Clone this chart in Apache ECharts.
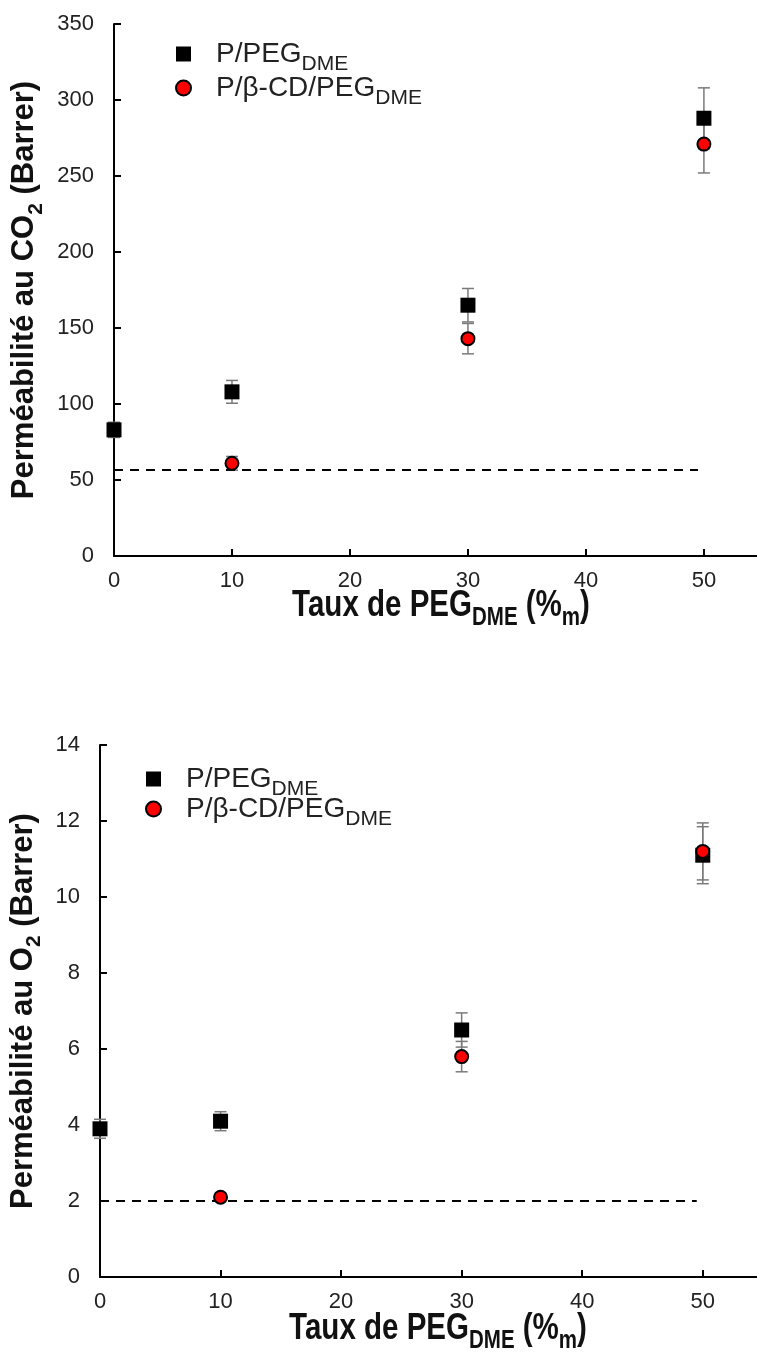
<!DOCTYPE html>
<html><head><meta charset="utf-8">
<script src="https://cdn.jsdelivr.net/npm/echarts@6/dist/echarts.min.js"></script>
<style>html,body{margin:0;padding:0;background:#fff}#c{width:757px;height:1363px}</style>
</head><body><div id="c"></div>
<script>
// ---- data ----
const xTicks = [0, 10, 20, 30, 40, 50];
const pegX = [0, 10, 30, 50];
const cdX = [10, 30, 50];
const co2Peg = [83, 108, 165, 288];
const co2PegErr = [5, 7.5, 11, 20];
const co2Cd = [61, 143, 271];
const co2CdErr = [4.5, 10, 19];
const co2Ref = 56.5;
const o2Peg = [3.9, 4.1, 6.5, 11.1];
const o2PegErr = [0.25, 0.25, 0.45, 0.75];
const o2Cd = [2.1, 5.8, 11.2];
const o2CdErr = [0.1, 0.4, 0.75];
const o2Ref = 2;
const refX = [0, 49.5];
const nPeg = 'P/PEG_DME';
const nCd = 'P/β-CD/PEG_DME';

const chart = echarts.init(document.getElementById('c'), null, {renderer: 'canvas'});
const F = 'Liberation Sans, Arial, sans-serif';

function pts(xs, ys) { return xs.map((x, i) => [x, ys[i]]); }
function errData(xs, ys, es) { return xs.map((x, i) => [x, ys[i] - es[i], ys[i] + es[i]]); }
function errSeries(idx, data) {
  return {
    type: 'custom', xAxisIndex: idx, yAxisIndex: idx, z: 1, silent: true,
    data: data,
    renderItem: function (params, api) {
      const x = api.value(0);
      const lo = api.coord([x, api.value(1)]);
      const hi = api.coord([x, api.value(2)]);
      const w = 6;
      const st = {stroke: '#7a7a7a', lineWidth: 1.5};
      return {type: 'group', children: [
        {type: 'line', shape: {x1: lo[0], y1: lo[1], x2: hi[0], y2: hi[1]}, style: st},
        {type: 'line', shape: {x1: lo[0] - w, y1: lo[1], x2: lo[0] + w, y2: lo[1]}, style: st},
        {type: 'line', shape: {x1: hi[0] - w, y1: hi[1], x2: hi[0] + w, y2: hi[1]}, style: st}
      ]};
    }
  };
}
function xAxisCfg(idx) {
  return {
    type: 'value', gridIndex: idx, min: 0, max: 54.5, interval: 10,
    axisLine: {lineStyle: {color: '#000', width: 2}},
    axisTick: {inside: true, length: 7, lineStyle: {color: '#000', width: 2}},
    axisLabel: {color: '#222', fontSize: 22, fontFamily: F, margin: 14, showMaxLabel: false},
    splitLine: {show: false}
  };
}
function yAxisCfg(idx, max, interval, gas, gap) {
  return {
    type: 'value', gridIndex: idx, min: 0, max: max, interval: interval,
    axisLine: {show: true, lineStyle: {color: '#000', width: 2}},
    axisTick: {show: true, inside: true, length: 7, lineStyle: {color: '#000', width: 2}},
    axisLabel: {color: '#222', fontSize: 22, fontFamily: F, margin: 20},
    splitLine: {show: false},
    name: '{b|Perméabilité au ' + gas + '}{s|2}{b| (Barrer)}',
    nameLocation: 'middle', nameGap: gap, nameRotate: 90,
    nameTextStyle: {
      rich: {
        b: {fontFamily: F, fontWeight: 'bold', fontSize: 31, color: '#111', verticalAlign: 'bottom'},
        s: {fontFamily: F, fontWeight: 'bold', fontSize: 21, color: '#111', verticalAlign: 'bottom', padding: [0, 0, -6, 0]}
      }
    }
  };
}
const legendRich = {
  a: {fontFamily: F, fontSize: 28, color: '#222', verticalAlign: 'bottom', padding: [0, 0, 0, 20]},
  s: {fontFamily: F, fontSize: 21, color: '#222', verticalAlign: 'bottom', padding: [0, 0, -7, 0]}
};
function legFmt(name) {
  const p = name.split('_');
  return '{a|' + p[0] + '}{s|' + p[1] + '}';
}
function legendCfg(left, top, gap) {
  return {
    left: left, top: top, orient: 'vertical', itemGap: gap, itemWidth: 15, itemHeight: 15, padding: 0,
    data: [{name: nPeg, icon: 'rect'}, {name: nCd, icon: 'circle'}],
    formatter: legFmt, textStyle: {rich: legendRich}, selectedMode: false
  };
}
function scatterPair(idx, peg, cd) {
  return [
    {name: nPeg, type: 'scatter', xAxisIndex: idx, yAxisIndex: idx, z: 3, symbol: 'rect', symbolSize: 15,
     itemStyle: {color: '#000', opacity: 1}, data: pts(pegX, peg)},
    {name: nCd, type: 'scatter', xAxisIndex: idx, yAxisIndex: idx, z: 4, symbol: 'circle', symbolSize: 13,
     itemStyle: {color: '#ff0000', borderColor: '#000', borderWidth: 2, opacity: 1}, data: pts(cdX, cd)}
  ];
}
function refLine(idx, v) {
  return {type: 'line', xAxisIndex: idx, yAxisIndex: idx, z: 2, symbol: 'none', silent: true,
    lineStyle: {color: '#000', width: 2, type: [9, 7]}, data: refX.map(x => [x, v])};
}
function xTitle(cx, cy) {
  return {
    type: 'text', x: cx, y: cy, scaleX: 0.82, silent: true,
    style: {
      text: '{b|Taux de PEG}{s|DME}{b| (%}{s|m}{b|)}',
      align: 'center', verticalAlign: 'middle',
      rich: {
        b: {fontFamily: F, fontWeight: 'bold', fontSize: 36, fill: '#111', verticalAlign: 'bottom'},
        s: {fontFamily: F, fontWeight: 'bold', fontSize: 25, fill: '#111', verticalAlign: 'bottom', padding: [0, 0, -7, 0]}
      }
    }
  };
}

chart.setOption({
  animation: false,
  grid: [
    {left: 114, top: 24, width: 643, height: 532, outerBoundsMode: 'none', containLabel: false},
    {left: 100, top: 745, width: 657, height: 532, outerBoundsMode: 'none', containLabel: false}
  ],
  legend: [legendCfg(175, 40, -1), legendCfg(145, 765, -5)],
  xAxis: [xAxisCfg(0), xAxisCfg(1)],
  yAxis: [yAxisCfg(0, 350, 50, 'CO', 64), yAxisCfg(1, 14, 2, 'O', 50)],
  graphic: [xTitle(441, 606), xTitle(438, 1329)],
  series: [
    refLine(0, co2Ref),
    errSeries(0, errData(pegX, co2Peg, co2PegErr)),
    errSeries(0, errData(cdX, co2Cd, co2CdErr)),
    ...scatterPair(0, co2Peg, co2Cd),
    refLine(1, o2Ref),
    errSeries(1, errData(pegX, o2Peg, o2PegErr)),
    errSeries(1, errData(cdX, o2Cd, o2CdErr)),
    ...scatterPair(1, o2Peg, o2Cd)
  ]
});
</script></body></html>
